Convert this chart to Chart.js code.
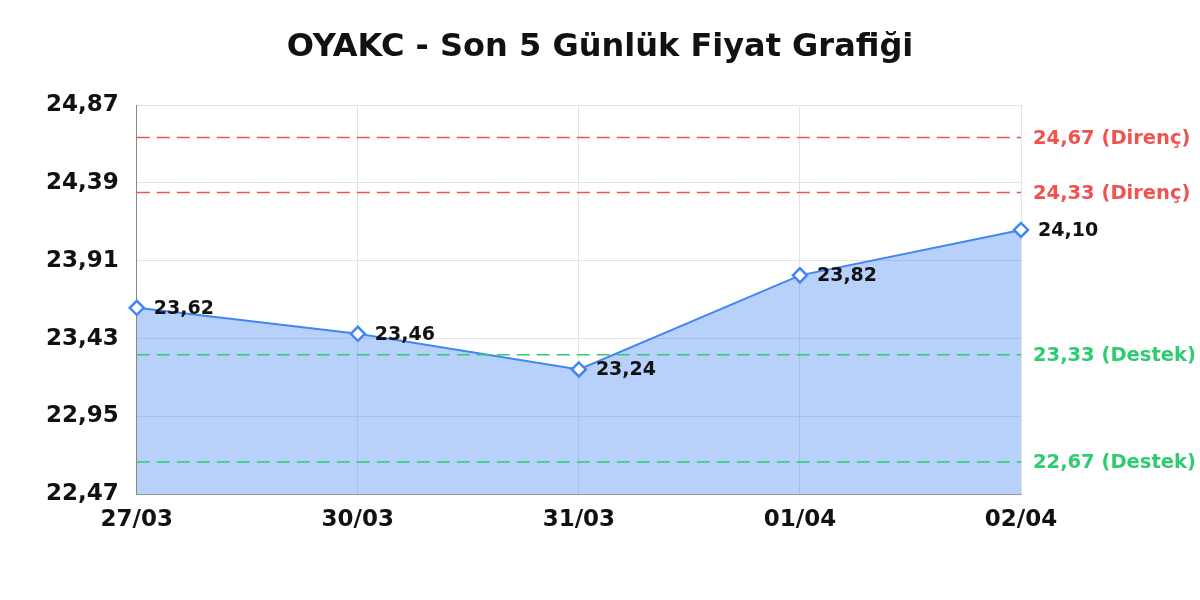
<!DOCTYPE html>
<html>
<head>
<meta charset="utf-8">
<script src="https://cdn.jsdelivr.net/npm/chart.js@4"></script>
<style>
  body{margin:0;background:#fff;}
  #wrap{width:1200px;height:600px;}
</style>
</head>
<body>
<div id="wrap"><canvas id="priceChart" width="1200" height="600"></canvas></div>
<script>
const days = ["27/03","30/03","31/03","01/04","02/04"];
const prices = [23.62, 23.46, 23.24, 23.82, 24.10];
const yTicks = [22.47, 22.95, 23.43, 23.91, 24.39, 24.87];
const resistance = [24.67, 24.33];
const support = [23.33, 22.67];
const title = "OYAKC - Son 5 Günlük Fiyat Grafiği";

const fmt = v => v.toFixed(2).replace(".", ",");
const FONT = "'DejaVu Sans', sans-serif";

// title centred on the whole canvas, dashed support/resistance lines, point labels
const overlay = {
  id: "overlay",
  afterDatasetsDraw(chart){
    const ctx = chart.ctx, area = chart.chartArea, y = chart.scales.y;
    ctx.save();
    ctx.fillStyle = "#111";
    ctx.font = "bold 32px " + FONT;
    ctx.textAlign = "center";
    ctx.textBaseline = "middle";
    ctx.fillText(title, chart.width / 2, 48);

    const lines = resistance.map(v => [v, "#ef5350", "Direnç"])
      .concat(support.map(v => [v, "#2ecc71", "Destek"]));
    ctx.textAlign = "left";
    lines.forEach(([v, col, name]) => {
      const py = y.getPixelForValue(v);
      ctx.strokeStyle = col;
      ctx.lineWidth = 1.5;
      ctx.setLineDash([13, 7]);
      ctx.beginPath();
      ctx.moveTo(area.left, py);
      ctx.lineTo(area.right, py);
      ctx.stroke();
      ctx.setLineDash([]);
      ctx.fillStyle = col;
      ctx.font = "bold 19.5px " + FONT;
      ctx.fillText(fmt(v) + " (" + name + ")", area.right + 12, py + 1);
    });
    // value labels next to points
    const meta = chart.getDatasetMeta(0);
    ctx.fillStyle = "#111";
    ctx.font = "bold 19px " + FONT;
    meta.data.forEach((pt, i) => {
      ctx.fillText(fmt(prices[i]), pt.x + 17, pt.y + 1);
    });
    ctx.restore();
  }
};

new Chart(document.getElementById("priceChart"), {
  type: "line",
  data: {
    labels: days,
    datasets: [{
      data: prices,
      borderColor: "#4285f4",
      borderWidth: 2,
      backgroundColor: "rgba(66,133,244,0.38)",
      fill: "start",
      tension: 0,
      pointStyle: "rectRot",
      pointRadius: 7,
      pointBorderWidth: 2.5,
      pointBackgroundColor: "#fff",
      pointBorderColor: "#4285f4"
    }]
  },
  options: {
    responsive: false,
    animation: false,
    layout: { padding: { left: 28, right: 179, top: 105, bottom: 54 } },
    plugins: {
      legend: { display: false },
      tooltip: { enabled: false },
      title: { display: false }
    },
    scales: {
      x: {
        offset: false,
        grid: { color: "#e3e3e3", drawTicks: false },
        border: { color: "#999" },
        ticks: { color: "#111", padding: 12, font: { family: FONT, size: 23, weight: "bold" } }
      },
      y: {
        min: yTicks[0],
        max: yTicks[yTicks.length - 1],
        afterBuildTicks: ax => { ax.ticks = yTicks.map(v => ({ value: v })); },
        grid: { color: "#e3e3e3", drawTicks: false },
        border: { color: "#888" },
        ticks: {
          color: "#111",
          padding: 18,
          font: { family: FONT, size: 23, weight: "bold" },
          callback: v => fmt(v)
        }
      }
    }
  },
  plugins: [overlay]
});
</script>
</body>
</html>
